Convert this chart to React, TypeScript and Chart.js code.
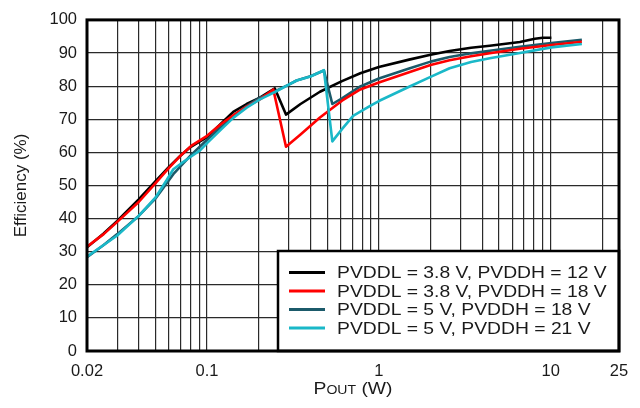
import { useEffect, useRef } from "react";
import { Chart, registerables } from "chart.js";

Chart.register(...registerables);

// ---------- data ----------
const seriesLabels = [
  "PVDDL = 3.8 V, PVDDH = 12 V",
  "PVDDL = 3.8 V, PVDDH = 18 V",
  "PVDDL = 5 V, PVDDH = 18 V",
  "PVDDL = 5 V, PVDDH = 21 V",
];
const seriesColors = ["#000000", "#ff0000", "#1b5a6a", "#1ab8c8"];

const blackX = [0.02, 0.025, 0.03, 0.04, 0.05, 0.06, 0.07, 0.08, 0.1, 0.12, 0.142, 0.17, 0.203, 0.248, 0.288, 0.35, 0.454, 0.61, 0.78, 1.0, 1.5, 2.0, 2.58, 3.44, 4.42, 6.62, 8.1, 9.0, 10.1];
const blackY = [31.3, 35.5, 39.3, 45.8, 51.2, 55.6, 59.0, 61.6, 64.6, 68.6, 72.2, 74.6, 76.5, 79.3, 71.4, 74.6, 78.3, 81.5, 83.9, 85.8, 88.0, 89.5, 90.6, 91.6, 92.2, 93.3, 94.3, 94.6, 94.6];

const redX = [0.02, 0.025, 0.03, 0.04, 0.05, 0.06, 0.071, 0.082, 0.1, 0.12, 0.142, 0.17, 0.203, 0.243, 0.288, 0.35, 0.454, 0.61, 0.78, 1.0, 1.5, 2.0, 2.58, 3.44, 4.42, 6.62, 10.1, 15.2];
const redY = [31.5, 35.3, 39.0, 45.0, 50.6, 55.3, 59.3, 62.2, 65.0, 68.5, 71.2, 73.8, 76.0, 79.0, 61.7, 65.4, 70.5, 75.6, 79.0, 81.1, 84.2, 86.4, 87.8, 89.0, 89.9, 91.3, 92.4, 93.4];

const tealX = [0.02, 0.025, 0.03, 0.04, 0.05, 0.0636, 0.08, 0.1, 0.12, 0.142, 0.17, 0.203, 0.25, 0.297, 0.332, 0.4, 0.479, 0.536, 0.61, 0.78, 1.0, 1.5, 2.0, 2.58, 3.44, 4.42, 6.62, 10.1, 15.2];
const tealY = [28.3, 32.0, 35.3, 40.8, 46.0, 53.4, 59.0, 63.8, 67.5, 71.0, 74.0, 76.5, 78.5, 80.4, 81.7, 83.0, 84.7, 74.6, 76.3, 79.9, 82.3, 85.3, 87.4, 88.8, 89.9, 90.7, 91.9, 93.0, 94.0];

const cyanX = [0.02, 0.025, 0.03, 0.04, 0.05, 0.058, 0.0636, 0.07, 0.08, 0.091, 0.1, 0.12, 0.142, 0.17, 0.203, 0.25, 0.297, 0.332, 0.4, 0.479, 0.536, 0.61, 0.708, 0.89, 1.0, 1.5, 2.0, 2.58, 3.44, 4.42, 6.62, 10.1, 15.2];
const cyanY = [28.5, 32.0, 34.9, 40.8, 46.3, 51.5, 54.9, 56.5, 58.6, 60.6, 62.8, 66.8, 70.4, 73.5, 76.0, 78.3, 80.4, 81.7, 82.9, 84.8, 63.3, 67.0, 71.0, 74.0, 75.5, 79.8, 82.8, 85.4, 87.3, 88.4, 90.0, 91.7, 92.7];

const xGridValues = [0.02, 0.03, 0.04, 0.05, 0.06, 0.07, 0.08, 0.09, 0.1, 0.2, 0.3, 0.4, 0.5, 0.6, 0.7, 0.8, 0.9, 1, 2, 3, 4, 5, 6, 7, 8, 9, 10, 20, 25];
const xTickLabels = [0.02, 0.1, 1, 10, 25];
const yMin = 0;
const yMax = 100;
const yStep = 10;

const FONT = "'Liberation Sans', Arial, sans-serif";

const toPoints = (xs: number[], ys: number[]) => xs.map((x, i) => ({ x, y: ys[i] }));

const decorPlugin = {
  id: "decor",
  afterDatasetsDraw(chart: any) {
    const { ctx, chartArea: a } = chart;
    ctx.save();
    // legend box
    const bw = 341;
    const bh = 100;
    const bx = a.right - bw;
    const by = a.bottom - bh;
    ctx.fillStyle = "#ffffff";
    ctx.fillRect(bx, by, bw, bh);
    ctx.lineWidth = 2.5;
    ctx.strokeStyle = "#000";
    ctx.strokeRect(bx, by, bw, bh);
    const rowY = [21.5, 40, 58.5, 77];
    seriesLabels.forEach((label, i) => {
      const y = by + rowY[i];
      ctx.strokeStyle = seriesColors[i];
      ctx.lineWidth = 3;
      ctx.beginPath();
      ctx.moveTo(bx + 11, y);
      ctx.lineTo(bx + 47, y);
      ctx.stroke();
      ctx.save();
      ctx.translate(bx + 59, y);
      ctx.scale(1.17, 1);
      ctx.font = `16.5px ${FONT}`;
      ctx.fillStyle = "#1a1a1a";
      ctx.textBaseline = "middle";
      ctx.textAlign = "left";
      ctx.fillText(label, 0, 1);
      ctx.restore();
    });
    // frame
    ctx.lineWidth = 3;
    ctx.strokeStyle = "#000";
    ctx.strokeRect(a.left, a.top, a.right - a.left, a.bottom - a.top);
    // x-axis title with subscript
    const cx = (a.left + a.right) / 2;
    const baseY = 394;
    const big = `16.5px ${FONT}`;
    const small = `12px ${FONT}`;
    ctx.font = big;
    const wP = ctx.measureText("P").width;
    const wW = ctx.measureText(" (W)").width;
    ctx.font = small;
    const wO = ctx.measureText("OUT").width;
    const sx = 1.17;
    const total = (wP + wO + wW) * sx;
    ctx.save();
    ctx.translate(cx - total / 2, baseY);
    ctx.scale(sx, 1);
    ctx.fillStyle = "#1a1a1a";
    ctx.textBaseline = "alphabetic";
    ctx.textAlign = "left";
    ctx.font = big;
    ctx.fillText("P", 0, 0);
    ctx.font = small;
    ctx.fillText("OUT", wP, 0);
    ctx.font = big;
    ctx.fillText(" (W)", wP + wO, 0);
    ctx.restore();
    ctx.restore();
  },
};

export default function App() {
  const canvasRef = useRef<HTMLCanvasElement | null>(null);

  useEffect(() => {
    const canvas = canvasRef.current;
    if (!canvas) return;
    const mk = (i: number, xs: number[], ys: number[], order: number) => ({
      label: seriesLabels[i],
      data: toPoints(xs, ys),
      borderColor: seriesColors[i],
      backgroundColor: seriesColors[i],
      borderWidth: 2.6,
      pointRadius: 0,
      tension: 0,
      borderJoinStyle: "round",
      fill: false,
      order,
    });
    const chart = new Chart(canvas, {
      type: "line",
      data: {
        datasets: [
          mk(0, blackX, blackY, 3),
          mk(1, redX, redY, 1),
          mk(2, tealX, tealY, 2),
          mk(3, cyanX, cyanY, 0),
        ],
      },
      options: {
        animation: false,
        responsive: false,
        devicePixelRatio: 1,
        layout: { padding: { top: 12, right: 21, left: 0, bottom: 0 } },
        plugins: {
          legend: { display: false },
          tooltip: { enabled: false },
        },
        scales: {
          x: {
            type: "logarithmic",
            min: 0.02,
            max: 25,
            afterBuildTicks: (scale: any) => {
              scale.ticks = xGridValues.map((v) => ({ value: v }));
            },
            afterFit: (scale: any) => {
              scale.height = 57;
            },
            ticks: {
              autoSkip: false,
              maxRotation: 0,
              padding: 11,
              color: "#1a1a1a",
              font: { family: FONT, size: 16.5 },
              callback: (value: any) => (xTickLabels.includes(Number(value)) ? String(value) : ""),
            },
            grid: { color: "#2a2a2a", lineWidth: 1.2, drawTicks: false },
            border: { display: false },
          },
          y: {
            type: "linear",
            min: yMin,
            max: yMax,
            afterFit: (scale: any) => {
              scale.width = 87;
            },
            ticks: {
              stepSize: yStep,
              padding: 10,
              color: "#1a1a1a",
              font: { family: FONT, size: 16.5 },
            },
            grid: { color: "#2a2a2a", lineWidth: 1.2, drawTicks: false },
            border: { display: false },
            title: {
              display: true,
              text: "Efficiency (%)",
              color: "#1a1a1a",
              font: { family: FONT, size: 17 },
              padding: { top: 11, bottom: 0 },
            },
          },
        },
      },
      plugins: [decorPlugin],
    } as any);
    return () => chart.destroy();
  }, []);

  return (
    <div style={{ position: "fixed", left: 0, top: 0, width: 640, height: 408, background: "#fff" }}>
      <canvas ref={canvasRef} width={640} height={408} style={{ width: 640, height: 408, display: "block" }} />
    </div>
  );
}
